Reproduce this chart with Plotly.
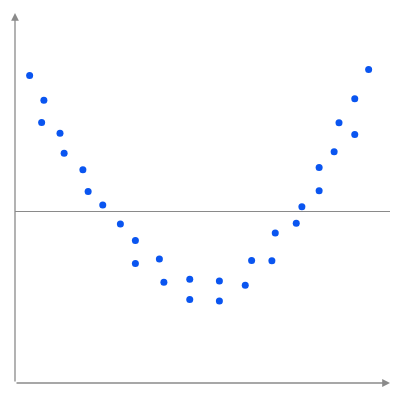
import plotly.graph_objects as go

# Scatter points (x from 0 to 10, y around zero)
x_vals = [0.39, 0.77, 0.71, 1.20, 1.31, 1.81, 1.95, 2.34, 2.81, 3.21,
          3.21, 3.85, 3.97, 4.66, 4.66, 5.45, 5.45, 6.14, 6.31, 6.85,
          6.94, 7.50, 7.65, 8.11, 8.11, 8.51, 9.06, 8.64, 9.06, 9.43]
y_vals = [3.62, 2.96, 2.37, 2.08, 1.55, 1.11, 0.53, 0.17, -0.34, -0.78,
          -1.39, -1.27, -1.89, -1.81, -2.35, -1.86, -2.39, -1.97, -1.31, -1.32,
          -0.58, -0.32, 0.12, 0.55, 1.17, 1.59, 2.05, 2.36, 3.00, 3.78]

fig = go.Figure()
fig.add_trace(go.Scatter(
    x=x_vals, y=y_vals, mode="markers",
    marker=dict(color="#0a55f0", size=7),
    hoverinfo="skip",
))

axis_grey = "#8a8a8a"

# page body adds an 8px offset, margins account for it
fig.update_layout(
    width=400, height=400,
    margin=dict(l=7, r=18, t=5, b=25),
    paper_bgcolor="white", plot_bgcolor="white",
    showlegend=False,
    xaxis=dict(range=[0, 10], showgrid=False, zeroline=False,
               showticklabels=False, ticks=""),
    yaxis=dict(range=[-4.58, 5.29], showgrid=False, zeroline=True,
               zerolinecolor=axis_grey, zerolinewidth=1.3,
               showticklabels=False, ticks=""),
    annotations=[
        # x axis with arrow
        dict(xref="x domain", yref="y domain", x=1, y=0, ax=0, ay=0,
             axref="x domain", ayref="y domain", showarrow=True, text="",
             arrowhead=2, arrowsize=1.2, arrowwidth=1.3, arrowcolor=axis_grey),
        # y axis with arrow
        dict(xref="x domain", yref="y domain", x=0, y=1, ax=0, ay=0,
             axref="x domain", ayref="y domain", showarrow=True, text="",
             arrowhead=2, arrowsize=1.2, arrowwidth=1.3, arrowcolor=axis_grey),
    ],
)

fig.write_html("out.html")
